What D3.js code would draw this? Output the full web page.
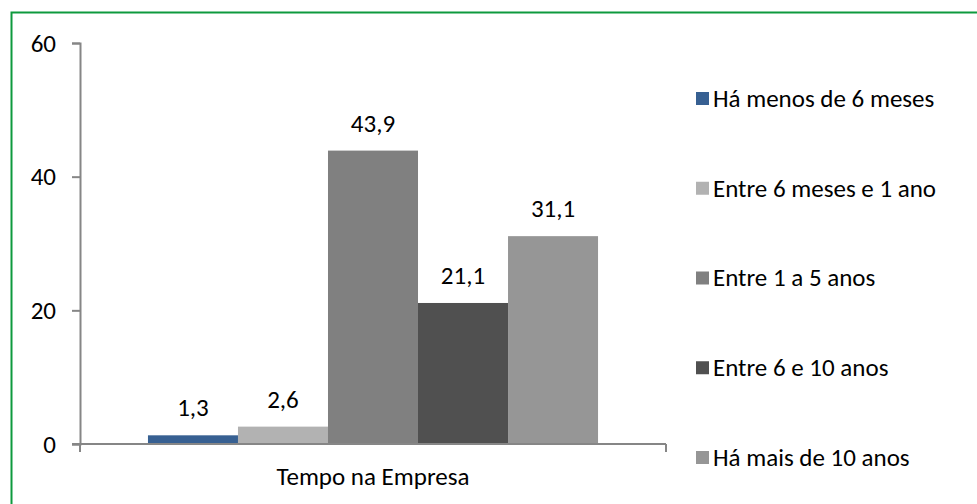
<!DOCTYPE html>
<html>
<head>
<meta charset="utf-8">
<script src="https://cdn.jsdelivr.net/npm/d3@7"></script>
<style>
  body { margin: 0; background: #fff; }
  text { font-family: Carlito, Calibri, Lato, "Open Sans", sans-serif; fill: #000; }
</style>
</head>
<body>
<svg id="chart" width="977" height="504"></svg>
<script>
const category = ["Tempo na Empresa"]
const seriesNames = ["Há menos de 6 meses", "Entre 6 meses e 1 ano", "Entre 1 a 5 anos", "Entre 6 e 10 anos", "Há mais de 10 anos"]
const seriesValues = [1.3, 2.6, 43.9, 21.1, 31.1]
const seriesColors = ["#376092", "#b2b2b2", "#808080", "#505050", "#969696"]
const yTicks = [0, 20, 40, 60]

const svg = d3.select("#chart")
const fontSize = 25
const axisColor = "#868686"

// green frame (only top and left edges fall inside the picture)
svg.append("rect")
  .attr("x", 11.5).attr("y", 12.5)
  .attr("width", 1000).attr("height", 1000)
  .attr("fill", "none")
  .attr("stroke", "#0e9a3e")
  .attr("stroke-width", 2)

const plot = {left: 80, right: 666, top: 43, bottom: 444}

const y = d3.scaleLinear().domain([0, 60]).range([plot.bottom, plot.top])
const x0 = d3.scaleBand().domain(category).range([plot.left, plot.right]).paddingInner(0).paddingOuter(0.151)
const x1 = d3.scaleBand().domain(seriesNames).range([0, x0.bandwidth()])

// y axis
const yAxis = svg.append("g")
  .attr("transform", `translate(${plot.left},0)`)
  .call(d3.axisLeft(y).tickValues(yTicks).tickSize(8).tickPadding(16).tickFormat(d3.format("d")))
yAxis.select(".domain").attr("stroke", axisColor).attr("stroke-width", 2)
yAxis.selectAll(".tick line").attr("stroke", axisColor).attr("stroke-width", 2)
yAxis.selectAll(".tick text").style("font-size", fontSize + "px").attr("fill", "#000")

// bars
const groups = svg.selectAll(".group").data(category).join("g")
  .attr("transform", d => `translate(${x0(d)},0)`)

groups.selectAll("rect").data(seriesNames.map((s, i) => ({s, v: seriesValues[i], c: seriesColors[i]})))
  .join("rect")
  .attr("x", d => x1(d.s))
  .attr("width", x1.bandwidth())
  .attr("y", d => y(d.v))
  .attr("height", d => y(0) - y(d.v))
  .attr("fill", d => d.c)

const fmt = d3.formatLocale({decimal: ",", thousands: ".", grouping: [3], currency: ["", ""]}).format(".1f")
groups.selectAll(".lbl").data(seriesNames.map((s, i) => ({s, v: seriesValues[i]})))
  .join("text")
  .attr("class", "lbl")
  .attr("x", d => x1(d.s) + x1.bandwidth() / 2)
  .attr("y", d => y(d.v) - 19)
  .attr("text-anchor", "middle")
  .style("font-size", fontSize + "px")
  .text(d => fmt(d.v))

// x axis
const xAxis = svg.append("g")
  .attr("transform", `translate(0,${plot.bottom})`)
  .call(d3.axisBottom(x0).tickSize(0).tickPadding(23))
xAxis.select(".domain").attr("stroke", axisColor).attr("stroke-width", 2)
  .attr("d", `M${plot.left - 8},0H${plot.right}`)
xAxis.selectAll(".tick text").style("font-size", fontSize + "px").attr("fill", "#000")
xAxis.selectAll(".edge").data([plot.left, plot.right]).join("line")
  .attr("x1", d => d).attr("x2", d => d).attr("y1", 0).attr("y2", 8)
  .attr("stroke", axisColor).attr("stroke-width", 2)

// legend
const legendY = d3.scalePoint().domain(seriesNames).range([98, 457])
const legend = svg.selectAll(".leg").data(seriesNames).join("g")
  .attr("transform", d => `translate(696,${legendY(d)})`)
legend.append("rect")
  .attr("x", 0).attr("y", -6).attr("width", 13).attr("height", 13)
  .attr("fill", (d, i) => seriesColors[i])
legend.append("text")
  .attr("x", 17).attr("dy", "0.35em")
  .style("font-size", fontSize + "px")
  .text(d => d)
</script>
</body>
</html>
